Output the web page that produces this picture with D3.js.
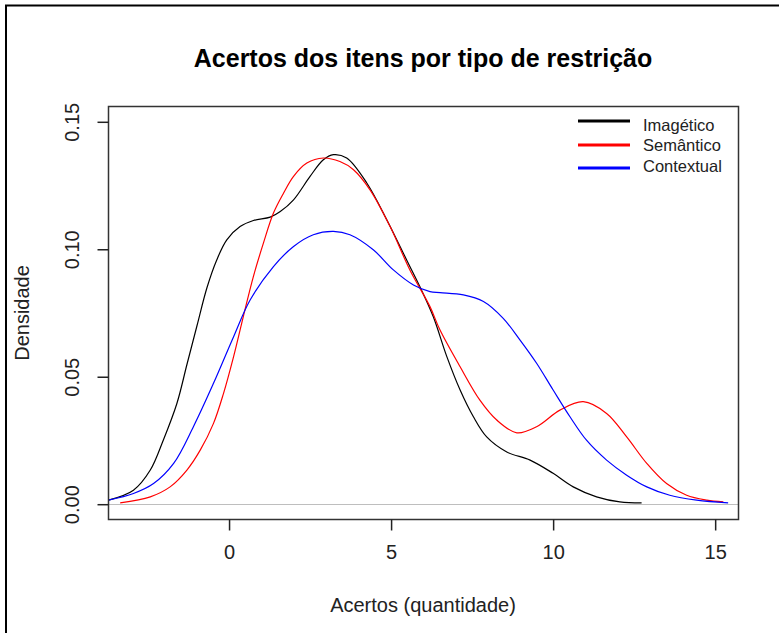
<!DOCTYPE html>
<html>
<head>
<meta charset="utf-8">
<script src="https://cdn.jsdelivr.net/npm/d3@7"></script>
<style>
  html, body { margin: 0; padding: 0; background: #fff; }
  svg { display: block; font-family: "Liberation Sans", Arial, sans-serif; }
</style>
</head>
<body>
<svg id="chart" width="779" height="633"></svg>
<script>
// Kernel density estimates of item hits, one series per restriction type
const seriesNames = ["Imagético", "Semântico", "Contextual"];
const seriesColors = ["#000000", "#ff0000", "#0000ff"];

const imageticoX = [-3.72, -2.95, -2.43, -2.03, -1.61, -1.30, -0.99, -0.68, -0.38, -0.07, 0.34, 0.75, 1.27, 1.58, 1.99, 2.50, 2.91, 3.22, 3.63, 4.25, 4.87, 5.48, 5.89, 6.30, 6.72, 7.13, 7.54, 7.95, 8.57, 9.29, 10.0, 10.62, 11.34, 12.06, 12.73];
const imageticoY = [0.0016, 0.0055, 0.0134, 0.0251, 0.0395, 0.0548, 0.0700, 0.0850, 0.0958, 0.1037, 0.1089, 0.1113, 0.1126, 0.1148, 0.1194, 0.1286, 0.1351, 0.1371, 0.1358, 0.1260, 0.1115, 0.0958, 0.0853, 0.0736, 0.0579, 0.0448, 0.0343, 0.0264, 0.0205, 0.0173, 0.0121, 0.0068, 0.0029, 0.0009, 0.0005];

const semanticoX = [-3.36, -2.43, -1.82, -1.30, -0.89, -0.48, -0.17, 0.14, 0.44, 0.75, 1.06, 1.37, 1.68, 1.99, 2.40, 2.91, 3.42, 3.84, 4.35, 4.97, 5.58, 6.20, 6.51, 7.13, 7.74, 8.26, 8.88, 9.49, 10.21, 10.93, 11.65, 12.27, 12.89, 13.50, 14.12, 14.74, 15.25];
const semanticoY = [0.0005, 0.0029, 0.0068, 0.0134, 0.0212, 0.0317, 0.0435, 0.0579, 0.0736, 0.0893, 0.1024, 0.1142, 0.1220, 0.1286, 0.1338, 0.1358, 0.1344, 0.1312, 0.1233, 0.1089, 0.0919, 0.0775, 0.0683, 0.0539, 0.0408, 0.0330, 0.0280, 0.0304, 0.0369, 0.0402, 0.0356, 0.0264, 0.0160, 0.0081, 0.0035, 0.0016, 0.0009];

const contextualX = [-3.72, -2.95, -2.33, -1.71, -1.10, -0.48, 0.14, 0.65, 1.37, 1.99, 2.60, 3.22, 3.73, 4.45, 5.07, 5.69, 6.20, 6.51, 7.23, 7.85, 8.46, 8.98, 9.49, 10.0, 10.52, 11.03, 11.65, 12.27, 12.89, 13.60, 14.43, 15.40];
const contextualY = [0.0016, 0.0042, 0.0081, 0.0160, 0.0304, 0.0474, 0.0657, 0.0801, 0.0932, 0.1011, 0.1057, 0.1070, 0.1057, 0.0998, 0.0919, 0.0860, 0.0834, 0.0830, 0.0821, 0.0795, 0.0729, 0.0644, 0.0553, 0.0448, 0.0343, 0.0251, 0.0173, 0.0114, 0.0068, 0.0035, 0.0016, 0.0005];

const xTicks = [0, 5, 10, 15];
const yTicks = [0.00, 0.05, 0.10, 0.15];
const yTickLabels = ["0.00", "0.05", "0.10", "0.15"];

const titleText = "Acertos dos itens por tipo de restrição";
const xLabelText = "Acertos (quantidade)";
const yLabelText = "Densidade";

// axis limits (with 4% padding on each side as in base graphics)
const xLim = [-3, 15], yLim = [0, 0.15];
const padX = (xLim[1] - xLim[0]) * 0.04, padY = (yLim[1] - yLim[0]) * 0.04;

const box = { left: 108.5, right: 738.5, top: 106.5, bottom: 519.5 };

const svg = d3.select("#chart");

const x = d3.scaleLinear().domain([xLim[0] - padX, xLim[1] + padX]).range([box.left, box.right]);
const y = d3.scaleLinear().domain([yLim[0] - padY, yLim[1] + padY]).range([box.bottom, box.top]);

// outer frame (left and top edges)
svg.append("path")
  .attr("d", "M6,633 V5.5 H779")
  .attr("fill", "none").attr("stroke", "#000").attr("stroke-width", 2);

// title
svg.append("text")
  .attr("x", 423).attr("y", 67)
  .attr("text-anchor", "middle")
  .attr("font-weight", "bold")
  .attr("font-size", 25)
  .attr("fill", "#000")
  .text(titleText);

// zero reference line
svg.append("line")
  .attr("x1", box.left).attr("x2", box.right)
  .attr("y1", Math.round(y(0)) + 0.5).attr("y2", Math.round(y(0)) + 0.5)
  .attr("stroke", "#bebebe").attr("stroke-width", 1);

// density curves
const series = [
  { xs: imageticoX, ys: imageticoY },
  { xs: semanticoX, ys: semanticoY },
  { xs: contextualX, ys: contextualY }
];
const line = d3.line()
  .x(d => x(d[0])).y(d => y(d[1]))
  .curve(d3.curveCatmullRom.alpha(0.5));

svg.append("clipPath").attr("id", "plotClip")
  .append("rect")
  .attr("x", box.left).attr("y", box.top)
  .attr("width", box.right - box.left).attr("height", box.bottom - box.top);

const curves = svg.append("g").attr("clip-path", "url(#plotClip)");
series.forEach((s, i) => {
  curves.append("path")
    .datum(d3.zip(s.xs, s.ys))
    .attr("d", line)
    .attr("fill", "none")
    .attr("stroke", seriesColors[i])
    .attr("stroke-width", 1.2);
});

// plot box
svg.append("rect")
  .attr("x", box.left).attr("y", box.top)
  .attr("width", box.right - box.left).attr("height", box.bottom - box.top)
  .attr("fill", "none").attr("stroke", "#333").attr("stroke-width", 1.5);

// x axis
const xAxis = d3.axisBottom(x).tickValues(xTicks).tickFormat(d3.format("d"))
  .tickSize(11).tickPadding(14);
const gx = svg.append("g").attr("transform", `translate(0,${box.bottom})`).call(xAxis);
gx.select(".domain").remove();
gx.selectAll(".tick line").attr("stroke", "#222").attr("stroke-width", 1.5);
gx.selectAll(".tick text")
  .attr("font-size", 20).attr("font-family", "Liberation Sans, Arial, sans-serif")
  .attr("fill", "#222");

// y axis
const yAxis = d3.axisLeft(y).tickValues(yTicks).tickFormat((d, i) => yTickLabels[i])
  .tickSize(11);
const gy = svg.append("g").attr("transform", `translate(${box.left},0)`).call(yAxis);
gy.select(".domain").remove();
gy.selectAll(".tick line").attr("stroke", "#222").attr("stroke-width", 1.5);
gy.selectAll(".tick text")
  .attr("font-size", 20).attr("font-family", "Liberation Sans, Arial, sans-serif")
  .attr("fill", "#222")
  .attr("x", null).attr("dy", null)
  .attr("text-anchor", "middle")
  .attr("transform", "translate(-37,0) rotate(-90)")
  .attr("dy", "0.35em");

// axis titles
svg.append("text")
  .attr("x", 423).attr("y", 612)
  .attr("text-anchor", "middle")
  .attr("font-size", 20).attr("fill", "#222")
  .text(xLabelText);

svg.append("text")
  .attr("transform", `translate(29,${(box.top + box.bottom) / 2}) rotate(-90)`)
  .attr("text-anchor", "middle")
  .attr("font-size", 20).attr("fill", "#222")
  .text(yLabelText);

// legend
const legendRowY = [121, 145, 168];
const legendTextY = [125, 145.5, 166];
const legend = svg.append("g");
seriesNames.forEach((name, i) => {
  legend.append("line")
    .attr("x1", 578).attr("x2", 630)
    .attr("y1", legendRowY[i]).attr("y2", legendRowY[i])
    .attr("stroke", seriesColors[i]).attr("stroke-width", 3);
  legend.append("text")
    .attr("x", 643).attr("y", legendTextY[i])
    .attr("dy", "0.35em")
    .attr("font-size", 16.5).attr("fill", "#222")
    .text(name);
});
</script>
</body>
</html>
